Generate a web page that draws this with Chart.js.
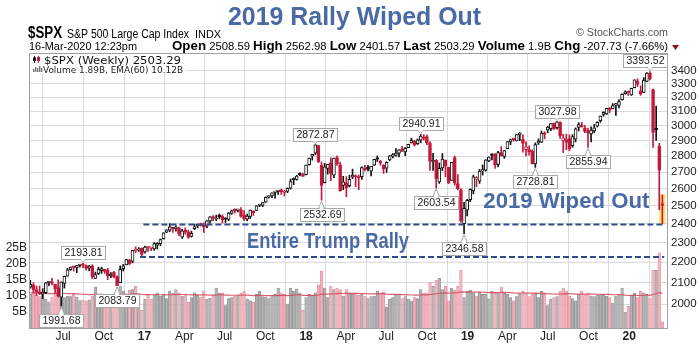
<!DOCTYPE html>
<html>
<head>
<meta charset="utf-8">
<title>$SPX weekly</title>
<script src="https://cdn.jsdelivr.net/npm/chart.js@4.4.1/dist/chart.umd.min.js"></script>
<style>
  html, body { margin: 0; padding: 0; background: #fff; }
  canvas { display: block; }
</style>
</head>
<body>
<canvas id="chart" width="700" height="345"></canvas>
<script>
// weekly candles, week of 18-Apr-2016 (index 0) to week of 16-Mar-2020 (index 204)
const weekOpen = [
  2078,2089,2067,2057,2047,2052,2099,2100,2092,2075,2031,2096,2131,2162,2175,2174,2183,2184,2183,2170,2181,2120,2143,2158,2164,2160,2132,2149,2129,2100,2168,2186,2212,2203,2258,2260,2270,
  2252,2273,2269,2267,2286, 2294,2321,2355,2366, 2375,2374,2379,2329, 2365,2357,2332,2374, 2388,2400,2393,2387,2416, 2437,2425,2442,2443, 2431,2424,2458,2473,2475, 2477,2450,2425,2441, 2470,2474,2502,2503, 2521,2551,2557,2578,2583, 2587,2577,2583,2603, 2657,2655,2685,2684,
  2684,2746,2799,2818,2867, 2741,2636,2722,2757, 2681,2790,2745,2619, 2633,2617,2670,2675,2668, 2671,2718,2725,2705, 2742,2781,2766,2742, 2724,2775,2799,2804,2819, 2844,2827,2853,2885, 2897,2879,2903,2924, 2927,2882,2764,2773,2640, 2726,2775,2730,2649, 2790,2630,2590,2401,2476,
  2535,2586,2657,2644, 2706,2712,2769,2804, 2814,2747,2822,2797, 2848,2892,2908,2898,2940, 2908,2841,2841,2830, 2751,2885,2889,2951, 2971,2980,3017,2986,3024, 2898,2907,2913,2866, 2910,2988,3001,2983,2967, 2944,2965,2996,3035, 3078,3081,3123,3117, 3144,3141,3183,3226,3240,
  3218,3271,3321,3248, 3235,3318,3380,3257, 2974,2864,2508.59
];
const weekHigh = [
  2111,2099,2084,2084,2071,2100,2105,2120,2092,2113,2104,2131,2169,2176,2178,2183.5,2188,2193.81,2187,2184,2187,2151,2175,2175,2165,2169,2148,2154,2133,2182,2189,2214,2214,2260,2278,2274,2273,
  2282,2279,2276,2300,2300, 2319,2352,2368,2401, 2378,2390,2382,2370, 2378,2366,2361,2398, 2399,2404,2405,2418,2440, 2446,2448,2454,2450, 2433,2463,2477,2484,2480, 2490,2474,2454,2477, 2472,2501,2509,2520, 2552,2557,2576,2582,2588, 2598,2590,2604,2658, 2665,2680,2695,2692,
  2743.5,2787,2811,2872.87,2870, 2763,2754,2748,2789, 2787,2802,2761,2674, 2672,2680,2718,2683,2682, 2732,2742,2742,2736, 2779.5,2801,2774,2746, 2764,2804,2816,2848,2841, 2863,2855,2876,2916, 2901,2911,2940.91,2940, 2939,2894,2817,2778,2756, 2816,2775,2730,2761, 2800,2685,2601,2520,2538,
  2598,2681,2672,2716, 2744,2776,2793,2814, 2816,2830,2860,2836, 2893,2910,2916,2940,2954, 2939,2892,2865,2841, 2885,2911,2964,2959, 2996,3014,3018,3027.98,3026, 2943,2943,2939,2940, 2985,3021,3022,3002,2983, 2993,3008,3027,3067, 3097,3121,3127,3154, 3154,3183,3225,3247,3246,
  3267,3330,3337,3285, 3347,3385.5,3393.52,3260, 3137,2882,2562.98
];
const weekLow = [
  2073,2052,2039,2043,2025,2048,2085,2089,2050,2032,1991.68,2074,2131,2159,2156,2148,2175,2172,2160,2157,2119,2119,2139,2145,2144,2114,2124,2122,2083.79,2099,2156,2186,2187,2196,2248,2254,2233,
  2245,2254,2258,2259,2267, 2284,2318,2352,2358, 2354,2360,2335,2322, 2344,2322,2328,2369, 2378,2388,2353,2379,2403, 2416,2418,2428,2405, 2407,2417,2452,2459,2466, 2437,2417,2417,2429, 2446,2474,2496,2495, 2520,2544,2547,2544,2566, 2566,2557,2576,2597, 2624,2651,2678,2673,
  2682,2742,2774,2808,2759, 2532.69,2634,2687,2647, 2665,2741,2585,2594, 2553,2610,2660,2612,2594, 2655,2707,2707,2676, 2740,2765,2742,2691, 2698,2770,2788,2799,2795, 2828,2802,2853,2884, 2864,2874,2885,2903, 2874,2710,2710,2603.54,2631, 2709,2670,2631,2649, 2621,2593,2408,2346.58,2443,
  2524,2569,2612,2631, 2681,2705,2764,2775, 2722,2732,2800,2785, 2848,2873,2896,2898,2900, 2825,2801,2805,2750, 2728.81,2874,2887,2912, 2952,2966,2975,2976,2914, 2822,2840,2834,2856, 2891,2964,2990,2952,2855.94, 2892,2952,2991,3023, 3065,3077,3091,3117, 3070,3124,3180,3223,3213,
  3214,3269,3280,3214, 3235,3315,3328,2855, 2901,2478,2401.57
];
const weekClose = [
  2091.58,2065.30,2057.14,2046.61,2052.32,2099.06,2099.13,2096.07,2071.22,2037.41,2102.95,2129.90,2161.74,2175.03,2173.60,2182.87,2184.05,2183.87,2169.04,2179.98,2127.81,2139.16,2164.69,2168.27,2153.74,2132.98,2141.16,2126.41,2085.18,2164.45,2181.90,2213.35,2191.95,2259.53,2258.07,2263.79,2238.83,
  2276.98,2274.64,2271.31,2294.69,2297.42, 2316.10,2351.16,2367.34,2383.12, 2372.60,2378.25,2343.98,2362.72, 2355.54,2328.95,2348.69,2384.20, 2399.29,2390.90,2381.73,2415.82,2439.07, 2431.77,2433.15,2438.30,2423.41, 2425.18,2459.27,2472.54,2472.10,2476.83, 2441.32,2425.55,2443.05,2476.55, 2461.43,2500.23,2502.22,2519.36, 2549.33,2553.17,2575.21,2581.07,2587.84, 2582.30,2578.85,2602.42,2642.22, 2651.50,2675.81,2683.34,2673.61,
  2743.15,2786.24,2810.30,2872.87,2762.13, 2619.55,2732.22,2747.30,2691.25, 2786.57,2752.01,2588.26,2640.87, 2604.47,2656.30,2670.14,2669.91,2663.42, 2727.72,2712.97,2721.33,2734.62, 2779.03,2779.66,2754.88,2718.37, 2759.82,2801.31,2801.83,2818.82,2840.35, 2833.28,2850.13,2874.69,2901.52, 2871.68,2904.98,2929.67,2913.98, 2885.57,2767.13,2767.78,2658.69,2723.06, 2781.01,2736.27,2632.56,2760.17, 2633.08,2599.95,2416.62,2485.74,2531.94,
  2596.26,2670.71,2664.76,2706.53, 2707.88,2775.60,2792.67,2803.69, 2743.07,2822.48,2800.71,2834.40, 2892.74,2907.41,2905.03,2939.88,2945.64, 2881.40,2859.53,2826.06,2752.06, 2873.34,2886.98,2950.46,2941.76, 2990.41,3013.77,2976.61,3025.86,2932.05, 2918.65,2888.68,2847.11,2926.46, 2978.71,3007.39,2992.07,2961.79,2952.01, 2970.27,2986.20,3022.55,3066.91, 3093.08,3120.46,3110.29,3140.98, 3145.91,3168.80,3221.22,3240.02,3234.85,
  3265.35,3329.62,3295.47,3225.52, 3327.71,3380.16,3337.75,2954.22, 2972.37,2711.02,2503.29
];
// weekly volume, billions
const weekVolume = [
  10.5,10.8,10.2,9.8,10.5,9.0,8.2,9.5,11.0,13.0,11.5,9.5,10.0,9.8,10.5,9.6,8.6,8.8,8.5,8.8,10.0,12.8,10.2,10.4,9.0,10.2,10.0,10.6,11.0,13.2,11.5,8.5,11.8,12.0,13.0,10.5,5.5,
  9.0,10.5,9.0,10.2,11.0, 10.0,10.5,9.2,11.5, 10.8,12.0,11.0,10.0, 10.5,8.0,9.5,11.0, 10.2,9.5,11.5,9.0,9.3, 10.2,12.5,10.8,11.0, 7.0,9.2,9.5,10.0,10.3, 10.8,11.5,9.0,8.5, 8.0,10.5,11.5,9.8, 9.6,9.2,9.8,10.5,12.5, 11.0,10.5,7.5,12.5, 11.5,12.2,11.0,5.5,
  9.5,10.5,10.2,11.0,13.5, 17.8,12.5,9.5,13.0, 12.0,12.5,12.0,10.0, 12.0,11.0,10.5,10.8,10.2, 10.5,10.0,9.2,9.8, 10.0,11.5,11.0,11.2, 6.5,9.0,9.5,10.2,10.5, 9.2,9.8,9.0,8.5, 9.5,9.2,12.0,10.8, 11.0,14.2,13.0,15.0,15.5, 12.0,13.0,8.5,12.5, 11.8,13.0,18.0,9.5,11.5,
  11.8,11.0,10.0,11.2, 10.5,10.5,9.0,11.5, 10.8,11.0,12.8,10.8, 10.5,9.5,8.5,9.8,10.5, 11.5,11.0,9.8,10.5, 10.8,9.5,11.5,10.5, 7.0,9.0,9.5,9.8,11.5, 12.5,11.5,10.0,9.2, 8.5,10.5,11.5,10.2,11.0, 10.0,9.8,10.2,10.5, 10.2,10.0,9.5,7.8, 10.0,10.5,12.5,5.0,6.8,
  10.2,10.8,9.5,11.5, 11.0,10.5,9.2,18.0, 18.0,23.5,1.89
];

// axis ticks (x positions in week index units, first of the month)
const monthTickPos = [10.57, 23.71, 36.86, 49.71, 62.71, 75.86, 89, 101.86, 114.86, 128, 141.14, 154, 167, 180.14, 193.29];
const monthTickLabels = ['Jul','Oct','17','Apr','Jul','Oct','18','Apr','Jul','Oct','19','Apr','Jul','Oct','20'];
const priceTicks = [2000,2100,2200,2300,2400,2500,2600,2700,2800,2900,3000,3100,3200,3300,3400];
const volumeTicks = [5, 10, 15, 20, 25];

// labelled highs and lows
const calloutIdx  = [10, 17, 28, 92, 94, 126, 131, 140, 163, 170, 180, 200];
const calloutSide = ['low','high','low','high','low','high','low','low','low','high','low','high'];

// hand drawn marks
const lineLevels = [2397, 2226];
const lineStart = [36.5, 35.4];
const lineEnd = 204.6;
const notes = [
  { text: 'Entire Trump Rally', x: 96.1, y: 2303, w: 162 },
  { text: '2019 Wiped Out', x: 173, y: 2524, w: 166 }
];
const highlightIdx = 204;
const highlightRange = [2397, 2566];

const RED = '#c4183c';
const BLUE_TXT = '#4a6aa6';

const idx = weekClose.map((_, i) => i);
const prevClose = weekClose.map((c, i) => i ? weekClose[i - 1] : weekOpen[i]);
const candleColor = weekClose.map((c, i) => c >= prevClose[i] ? '#111111' : RED);
const bodyFill = weekClose.map((c, i) => c > weekOpen[i] ? '#ffffff' : candleColor[i]);
const volFill = weekClose.map((c, i) => c >= prevClose[i] ? '#b4b4b4' : '#f2b4be');
const volEdge = weekClose.map((c, i) => c >= prevClose[i] ? '#888888' : '#dd8797');

// EMA(60) of the volume, started at the level the line shows on the left edge
const volEma = [];
weekVolume.reduce((prev, v) => {
  const e = prev + (v - prev) * 2 / 61;
  volEma.push(e);
  return e;
}, 11.0);

function fitText(ctx, text, x, y, w, align) {
  const m = ctx.measureText(text).width;
  ctx.save();
  ctx.translate(x, y);
  ctx.scale(w / m, 1);
  ctx.textAlign = align || 'left';
  ctx.fillText(text, 0, 0);
  ctx.restore();
}

const overlay = {
  id: 'overlay',
  afterDraw(chart) {
    const { ctx, chartArea: a, scales } = chart;
    const px = i => scales.x.getPixelForValue(i);
    const py = v => scales.y.getPixelForValue(v);
    ctx.save();

    // legend box background, then plot frame
    ctx.fillStyle = '#fff';
    ctx.fillRect(a.left, a.top, 156, 21);
    ctx.strokeStyle = '#a0a0a0';
    ctx.lineWidth = 1;
    ctx.strokeRect(Math.round(a.left) - 0.5, Math.round(a.top) + 0.5, Math.round(a.right - a.left) + 1, Math.round(a.bottom - a.top));

    // header
    ctx.textBaseline = 'alphabetic';
    ctx.fillStyle = BLUE_TXT;
    ctx.font = 'bold 25px Arial';
    fitText(ctx, '2019 Rally Wiped Out', 354.5, 25, 253, 'center');

    ctx.fillStyle = '#000';
    ctx.font = 'bold 16px Arial';
    fitText(ctx, '$SPX', 28, 38, 34);
    ctx.font = '12px Arial';
    fitText(ctx, 'S&P 500 Large Cap Index', 67, 38, 122);
    ctx.font = '10px Arial';
    fitText(ctx, 'INDX', 195, 38, 26);
    ctx.font = '11px Arial';
    fitText(ctx, '16-Mar-2020 12:23pm', 29, 50, 108);
    ctx.fillStyle = '#555';
    fitText(ctx, '\u00A9 StockCharts.com', 576, 36, 92);

    const segs = [['Open',1],[' 2508.59 ',0],['High',1],[' 2562.98 ',0],['Low',1],[' 2401.57 ',0],['Last',1],
      [' 2503.29 ',0],['Volume',1],[' 1.9B ',0],['Chg',1],[' -207.73 (-7.66%)',0]];
    const fb = 'bold 13px Arial', fn = '11px Arial';
    let total = 0;
    segs.forEach(s => { ctx.font = s[1] ? fb : fn; total += ctx.measureText(s[0]).width; });
    ctx.save();
    ctx.translate(172, 50);
    ctx.scale(496 / total, 1);
    ctx.fillStyle = '#000';
    let cx = 0;
    segs.forEach(s => { ctx.font = s[1] ? fb : fn; ctx.fillText(s[0], cx, 0); cx += ctx.measureText(s[0]).width; });
    ctx.restore();
    ctx.fillStyle = '#8b1020';
    ctx.beginPath(); ctx.moveTo(672, 45); ctx.lineTo(679, 45); ctx.lineTo(675.5, 50); ctx.closePath(); ctx.fill();

    // in-plot legend
    ctx.fillStyle = '#111';
    ctx.fillRect(34, 56, 1, 7); ctx.fillRect(33, 57.5, 3, 3.5);
    ctx.fillStyle = RED;
    ctx.fillRect(38, 56, 1, 7); ctx.fillRect(37, 57, 3, 4);
    ctx.fillStyle = '#111';
    ctx.font = '11px "DejaVu Sans"';
    fitText(ctx, '$SPX (Weekly) 2503.29', 44, 64, 137);
    ctx.fillStyle = '#777';
    [[33,69,3],[35,67,5],[37,68,4],[39,66,6],[41,68,4]].forEach(b => ctx.fillRect(b[0], b[1], 1.4, b[2]));
    ctx.fillStyle = '#222';
    ctx.font = '9px "DejaVu Sans"';
    fitText(ctx, 'Volume 1.89B, EMA(60) 10.12B', 43, 72.5, 140);

    // callouts on highs and lows
    ctx.font = '10.5px Arial';
    ctx.textBaseline = 'middle';
    calloutIdx.forEach((i, k) => {
      const high = calloutSide[k] === 'high';
      const val = high ? weekHigh[i] : weekLow[i];
      const label = val.toFixed(2);
      const x = px(i), y = py(val);
      const w = ctx.measureText(label).width + 6, h = 13;
      let bx = x - w / 2;
      bx = Math.max(a.left + 1, Math.min(bx, a.right - w));
      const by = high ? y - 4 - h : y + 8;
      ctx.fillStyle = '#fff';
      ctx.strokeStyle = '#a8a8a8';
      ctx.lineWidth = 1;
      ctx.beginPath();
      if (high) { ctx.moveTo(x - 3, by + h); ctx.lineTo(x, y - 1); ctx.lineTo(x + 3, by + h); }
      else { ctx.moveTo(x - 3, by); ctx.lineTo(x, y + 1); ctx.lineTo(x + 3, by); }
      ctx.fill(); ctx.stroke();
      ctx.fillRect(Math.round(bx) + 0.5, Math.round(by) + 0.5, Math.round(w), h);
      ctx.strokeRect(Math.round(bx) + 0.5, Math.round(by) + 0.5, Math.round(w), h);
      ctx.fillStyle = '#fff';
      ctx.fillRect(x - 2, high ? by + h - 1 : by, 4, 2);
      ctx.fillStyle = '#222';
      ctx.textAlign = 'center';
      ctx.fillText(label, Math.round(bx) + 0.5 + Math.round(w) / 2, Math.round(by) + 0.5 + h / 2 + 0.5);
    });

    // big notes
    ctx.fillStyle = BLUE_TXT;
    ctx.font = 'bold 22px Arial';
    ctx.textBaseline = 'middle';
    notes.forEach(n => fitText(ctx, n.text, px(n.x), py(n.y), n.w, 'center'));
    ctx.restore();
  }
};

new Chart(document.getElementById('chart'), {
  type: 'bar',
  data: {
    datasets: [
      {
        type: 'line', yAxisID: 'y', order: 0,
        data: [{ x: lineStart[0], y: lineLevels[0] }, { x: lineEnd, y: lineLevels[0] }],
        borderColor: '#2f4e88', borderWidth: 2, borderDash: [6, 3], pointRadius: 0
      },
      {
        type: 'line', yAxisID: 'y', order: 0,
        data: [{ x: lineStart[1], y: lineLevels[1] }, { x: lineEnd, y: lineLevels[1] }],
        borderColor: '#2f4e88', borderWidth: 2, borderDash: [6, 3], pointRadius: 0
      },
      {
        yAxisID: 'y', order: 1, grouped: false,
        data: idx.map(i => ({ x: i, y: [weekOpen[i], weekClose[i]] })),
        backgroundColor: bodyFill, borderColor: candleColor, borderWidth: 1,
        barThickness: 3, minBarLength: 1.5, borderSkipped: false
      },
      {
        yAxisID: 'y', order: 2, grouped: false,
        data: idx.map(i => ({ x: i, y: [weekLow[i], weekHigh[i]] })),
        backgroundColor: candleColor, borderWidth: 0, barThickness: 1
      },
      {
        yAxisID: 'y', order: 3, grouped: false,
        data: [{ x: highlightIdx, y: highlightRange }],
        backgroundColor: 'rgba(255, 214, 90, 0.75)', borderWidth: 0, barThickness: 6
      },
      {
        type: 'line', yAxisID: 'yv', order: 4,
        data: idx.map(i => ({ x: i, y: volEma[i] })),
        borderColor: 'rgba(214, 70, 90, 0.85)', borderWidth: 1.2, pointRadius: 0, tension: 0
      },
      {
        yAxisID: 'yv', order: 5, grouped: false,
        data: idx.map(i => ({ x: i, y: weekVolume[i] })),
        backgroundColor: volFill, borderColor: volEdge, borderWidth: 0.6, barThickness: 2.6
      }
    ]
  },
  options: {
    responsive: false,
    animation: false,
    devicePixelRatio: 1,
    layout: { padding: { top: 53, left: 0, right: 0, bottom: 0 } },
    plugins: { legend: { display: false }, tooltip: { enabled: false } },
    scales: {
      x: {
        type: 'linear', min: -0.1, max: 205.5, offset: false,
        grid: { color: '#dadada', drawTicks: false },
        border: { display: false },
        ticks: {
          autoSkip: false, maxRotation: 0, padding: 1, color: '#222',
          font: c => ({ family: 'Arial', size: 12, weight: (monthTickLabels[c.index] || '').length === 2 ? 'bold' : 'normal' }),
          callback: (v, i) => monthTickLabels[i]
        },
        afterBuildTicks: s => { s.ticks = monthTickPos.map(v => ({ value: v })); },
        afterFit: s => { s.height = 17; }
      },
      y: {
        type: 'logarithmic', position: 'right', min: 1894, max: 3539,
        grid: { color: '#dadada', drawTicks: false },
        border: { display: false },
        ticks: { padding: 4, color: '#222', font: { family: 'Arial', size: 11.5 }, callback: v => String(v) },
        afterBuildTicks: s => { s.ticks = priceTicks.map(v => ({ value: v })); },
        afterFit: s => { s.width = 33; }
      },
      yv: {
        type: 'linear', position: 'left', min: 0, max: 85.9,
        grid: { display: false, drawTicks: false },
        border: { display: false },
        ticks: { padding: 3, color: '#222', font: { family: 'Arial', size: 12 }, callback: v => v + 'B' },
        afterBuildTicks: s => { s.ticks = volumeTicks.map(v => ({ value: v })); },
        afterFit: s => { s.width = 30; }
      }
    }
  },
  plugins: [overlay]
});
</script>
</body>
</html>
